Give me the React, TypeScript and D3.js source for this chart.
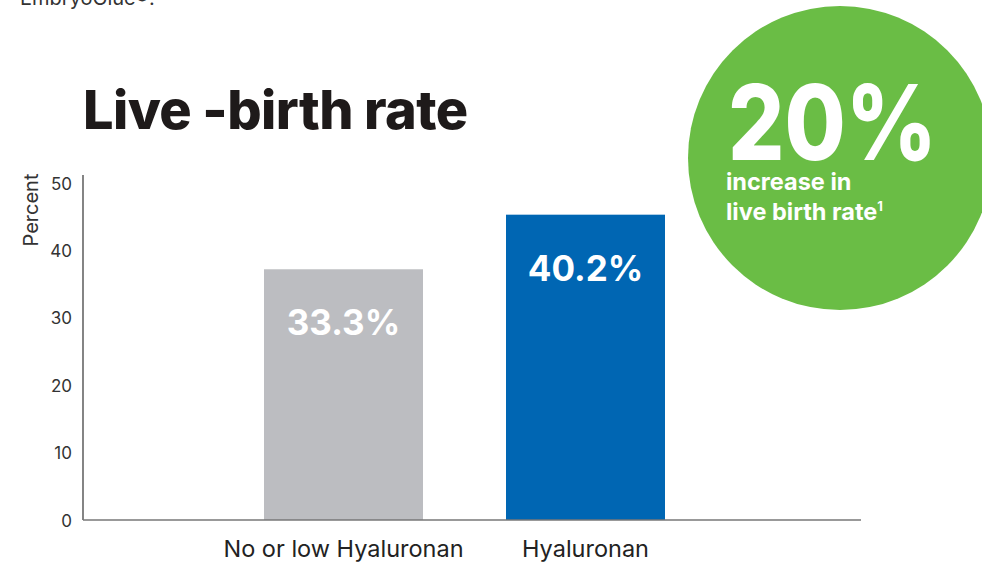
import React from 'react';
import * as d3 from 'd3';

// bar heights as drawn in the picture, and the printed labels
const categories = ['No or low Hyaluronan', 'Hyaluronan'];
const barValues = [37.2, 45.3];
const barLabels = ['33.3%', '40.2%'];
const barColors = ['#bcbdc1', '#0066b3'];
const yTicks = [0, 10, 20, 30, 40, 50];

const W = 982;
const H = 563;

export default function App() {
  const axisX = 83;
  const axisRight = 861;
  const baseY = 520;

  const y = d3.scaleLinear().domain([0, 50]).range([baseY, 183]);
  const x = d3.scaleBand<string>()
    .domain(categories)
    .range([222.5, 706.5])
    .paddingInner(0.343)
    .paddingOuter(0.1715);

  return (
    <svg width={W} height={H} style={{ position: 'absolute', left: 0, top: 0, background: '#fff' }}
      fontFamily="Inter, 'Noto Sans', sans-serif">
      {/* clipped intro line at the top */}
      <text x={20} y={5} fontSize={20} fill="#333">EmbryoGlue®.</text>

      {/* title */}
      <text x={83} y={129} fontSize={54} fontWeight={800} fill="#1e1a1a" letterSpacing={-0.6}>Live -birth rate</text>

      {/* green badge */}
      <circle cx={840} cy={158} r={152} fill="#6abd45" />
      <text x={728} y={160} fontSize={104} fontWeight={800} fill="#fff"
        textLength={209} lengthAdjust="spacingAndGlyphs">20%</text>
      <text x={726} y={190} fontSize={23.5} fontWeight={700} fill="#fff">increase in</text>
      <text x={726} y={220} fontSize={23.5} fontWeight={700} fill="#fff">
        live birth rate<tspan fontSize={13} dy={-9}>1</tspan>
      </text>

      {/* bars */}
      {categories.map((c, i) => (
        <g key={c}>
          <rect x={x(c)} y={y(barValues[i])} width={x.bandwidth()}
            height={baseY - y(barValues[i])} fill={barColors[i]} />
          <text x={x(c)! + x.bandwidth() / 2} y={y(barValues[i]) + 66}
            textAnchor="middle" fontSize={35} fontWeight={700} fill="#fff">{barLabels[i]}</text>
          <text x={x(c)! + x.bandwidth() / 2} y={557} textAnchor="middle"
            fontSize={23.5} fill="#222">{c}</text>
        </g>
      ))}

      {/* axes */}
      <line x1={axisX} x2={axisX} y1={175} y2={baseY} stroke="#333" strokeWidth={1.2} />
      <line x1={axisX} x2={axisRight} y1={baseY} y2={baseY} stroke="#777" strokeWidth={1.5} />
      {yTicks.map(t => (
        <text key={t} x={72} y={y(t) + 6.5} textAnchor="end" fontSize={17} fill="#333">{t}</text>
      ))}
      <text transform="translate(38,210) rotate(-90)" textAnchor="middle" fontSize={20} fill="#333">Percent</text>
    </svg>
  );
}
